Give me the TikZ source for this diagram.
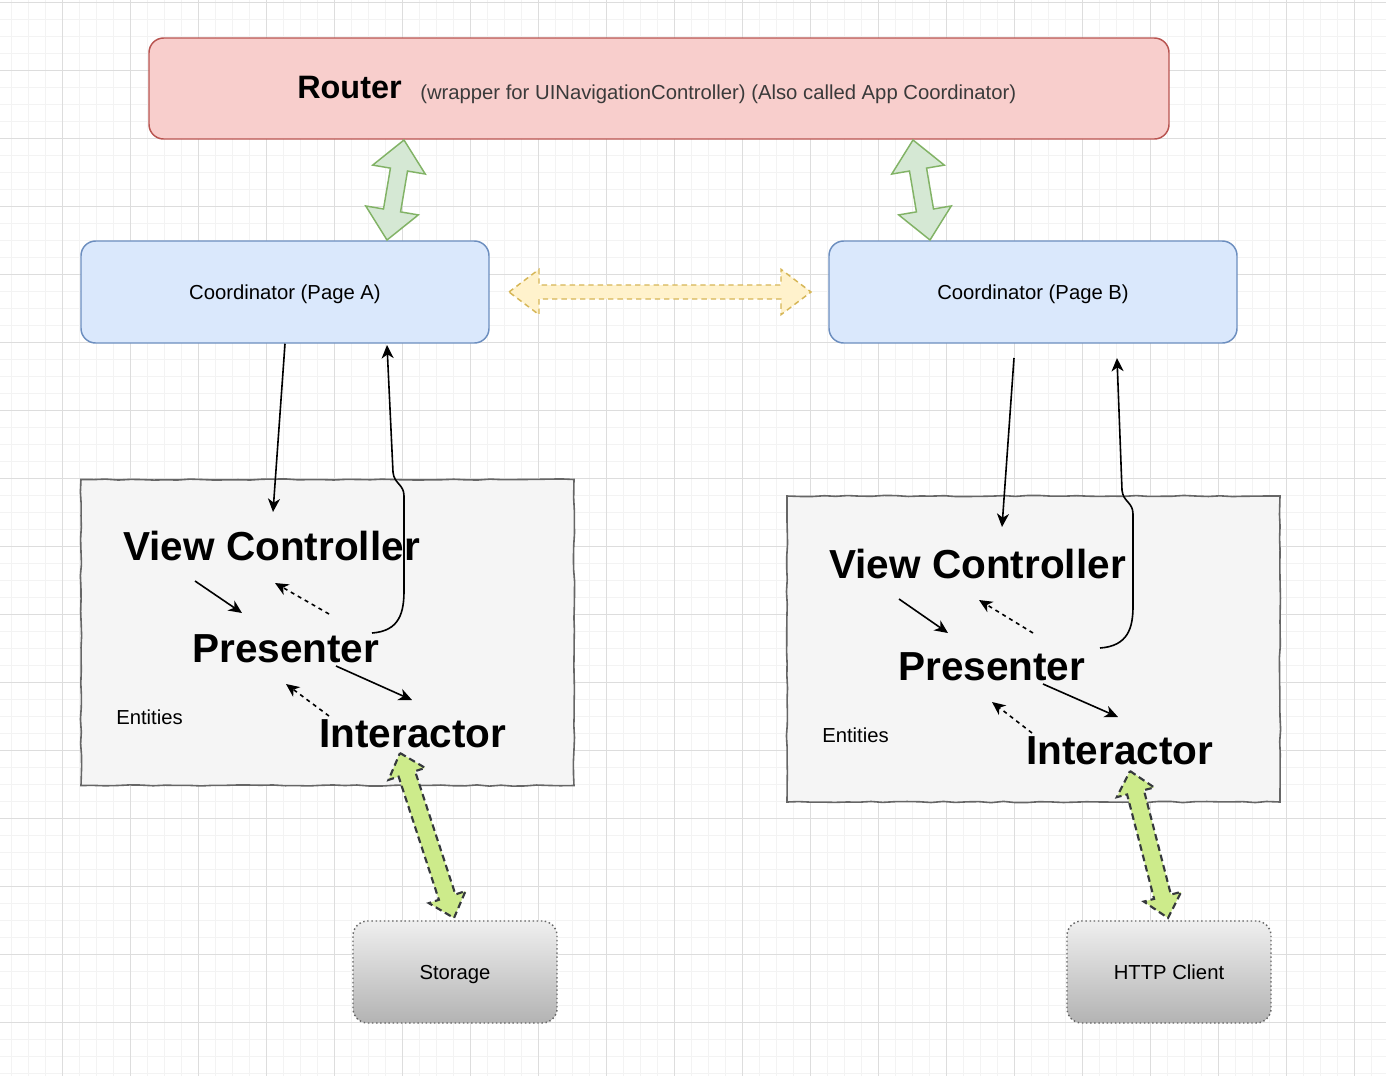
\documentclass[tikz,border=0pt]{standalone}
\usepackage{fontspec}
\setmainfont{Liberation Sans}
\usetikzlibrary{calc,arrows.meta,decorations.pathmorphing}
\definecolor{gridmin}{HTML}{F3F3F3}
\definecolor{gridmaj}{HTML}{DDDDDD}
\definecolor{rfill}{HTML}{F8CECC}
\definecolor{rdraw}{HTML}{B85450}
\definecolor{bfill}{HTML}{DAE8FC}
\definecolor{bdraw}{HTML}{6C8EBF}
\definecolor{gfill}{HTML}{D5E8D4}
\definecolor{gdraw}{HTML}{82B366}
\definecolor{yfill}{HTML}{FFF2CC}
\definecolor{ydraw}{HTML}{D6B656}
\definecolor{lfill}{HTML}{CDEB8B}
\definecolor{ldraw}{HTML}{36393D}
\definecolor{sfill}{HTML}{F5F5F5}
\definecolor{sdraw}{HTML}{666666}
\definecolor{wtext}{HTML}{3A3A3A}
\definecolor{exttop}{HTML}{EFEFEF}
\definecolor{extbot}{HTML}{B3B3B3}
% double block arrow: #1 prefix, #2 tip A, #3 tip B, #4 head length, #5 head half width, #6 shaft half width, #7 style
\newcommand\dblockarrow[7]{%
  \coordinate (#1h1) at ($(#2)!#4!(#3)$);
  \coordinate (#1h2) at ($(#3)!#4!(#2)$);
  \path[#7] (#2) -- ($(#1h1)!#5!90:(#3)$) -- ($(#1h1)!#6!90:(#3)$)
    -- ($(#1h2)!#6!-90:(#2)$) -- ($(#1h2)!#5!-90:(#2)$) -- (#3)
    -- ($(#1h2)!#5!90:(#2)$) -- ($(#1h2)!#6!90:(#2)$)
    -- ($(#1h1)!#6!-90:(#3)$) -- ($(#1h1)!#5!-90:(#3)$) -- cycle;}
\begin{document}
\begin{tikzpicture}[x=0.75pt,y=-0.75pt,
  routerbox/.style={draw=rdraw, fill=rfill, line width=1.1pt, rounded corners=11pt,
    minimum width=765pt, minimum height=75.75pt, inner sep=0pt},
  coordbox/.style={draw=bdraw, fill=bfill, line width=1.1pt, rounded corners=11pt,
    minimum width=306pt, minimum height=76.5pt, font=\fontsize{15.2}{18}\selectfont,
    text height=10.9pt, text depth=0pt},
  sketchbox/.style={draw=sdraw, fill=sfill, line width=1.2pt, decorate,
    decoration={random steps, segment length=9pt, amplitude=0.45pt},
    minimum width=369.75pt, minimum height=229.5pt, inner sep=0pt},
  extbox/.style={draw=sdraw, dotted, line width=1.1pt, top color=exttop, bottom color=extbot,
    rounded corners=11pt, minimum width=153pt, minimum height=76.5pt,
    font=\fontsize{15.2}{18}\selectfont, text height=10.9pt, text depth=0pt},
  big/.style={font=\fontsize{30.4}{36}\selectfont\bfseries, anchor=base west, inner sep=0pt},
  small/.style={font=\fontsize{15.2}{18}\selectfont, anchor=base west, inner sep=0pt},
  flow/.style={line width=1.2pt, -{Stealth[length=10pt,width=9pt,inset=3pt]}},
  ret/.style={flow, dash pattern=on 3pt off 3pt},
  greenarr/.style={fill=gfill, draw=gdraw, line width=1.1pt, line join=miter},
  yellowarr/.style={fill=yfill, draw=ydraw, line width=1.1pt, dash pattern=on 4pt off 3pt},
  limearr/.style={fill=lfill, draw=ldraw, line width=1.6pt, dash pattern=on 5pt off 3pt},
  gminor/.style={draw=gridmin, line width=0.75pt},
  gmajor/.style={draw=gridmaj, line width=0.75pt}]
\pgfmathsetseed{7}
\useasboundingbox (0,0) rectangle (1386,1076);
\fill[white] (0,0) rectangle (1386,1076);
% grid
\foreach \i in {0,...,81} {\draw[gminor] ({11+17*\i},0) -- ({11+17*\i},1076);}
\foreach \i in {0,...,63} {\draw[gminor] (0,{2+17*\i}) -- (1386,{2+17*\i});}
\foreach \i in {0,...,19} {\draw[gmajor] ({62+68*\i},0) -- ({62+68*\i},1076);}
\foreach \i in {0,...,15} {\draw[gmajor] (0,{2+68*\i}) -- (1386,{2+68*\i});}

% router
\node[routerbox] (router) at (659,88.5) {};
\node[font=\fontsize{24.3}{28}\selectfont\bfseries, anchor=base west, inner sep=0pt] (routert) at (297,98) {Router};
\node[small, text=wtext] (routerw) at (420,99) {(wrapper for UINavigationController) (Also called App Coordinator)};

% coordinators
\node[coordbox] (coA) at (285,292) {Coordinator (Page A)};
\node[coordbox] (coB) at (1033,292) {Coordinator (Page B)};

% sketch boxes
\node[sketchbox] (sbA) at (327.5,632.5) {};
\node[sketchbox] (sbB) at (1033.5,649) {};

% texts left
\node[big] (vcA) at (123,560) {View Controller};
\node[big] (prA) at (192,662) {Presenter};
\node[big] (itA) at (319,747) {Interactor};
\node[small] (enA) at (116,724) {Entities};
% texts right
\node[big] (vcB) at (829,578) {View Controller};
\node[big] (prB) at (898,680) {Presenter};
\node[big] (itB) at (1026,764) {Interactor};
\node[small] (enB) at (822,742) {Entities};

% external boxes
\node[extbox] (storage) at (455,972) {Storage};
\node[extbox] (http) at (1169,972) {HTTP Client};

% green router arrows
\coordinate (gA1) at (404,140);
\coordinate (gA2) at (387,240);
\coordinate (gB1) at (913,140);
\coordinate (gB2) at (930,240);
\dblockarrow{ga}{gA1}{gA2}{22.5pt}{20pt}{6.5pt}{greenarr}
\dblockarrow{gb}{gB1}{gB2}{22.5pt}{20pt}{6.5pt}{greenarr}

% yellow arrow between coordinators
\coordinate (yA) at (509,292);
\coordinate (yB) at (811,292);
\dblockarrow{ya}{yA}{yB}{22.5pt}{17pt}{5.25pt}{yellowarr}

% left flows
\coordinate (vcAin) at (273,512);
\coordinate (coAin) at (387,345);
\draw[flow] (coA.south) -- (vcAin);
\draw[flow] (372,633) .. controls (400,631) and (404,612) .. (404,590) -- (404,496)
  .. controls (404,484) and (394,484) .. (393,472) -- (coAin);
\coordinate (a1s) at (195,581); \coordinate (a1e) at (242,613);
\coordinate (a2s) at (329,614); \coordinate (a2e) at (275,583);
\coordinate (a3s) at (336,666); \coordinate (a3e) at (412,700);
\coordinate (a4s) at (329,716); \coordinate (a4e) at (286,684);
\draw[flow] (a1s) -- (a1e);
\draw[ret] (a2s) -- (a2e);
\draw[flow] (a3s) -- (a3e);
\draw[ret] (a4s) -- (a4e);

% right flows
\coordinate (coBout) at (1014,358);
\coordinate (vcBin) at (1002,527);
\coordinate (coBin) at (1117,358);
\draw[flow] (coBout) -- (vcBin);
\draw[flow] (1100,648) .. controls (1128,646) and (1133,628) .. (1133,606) -- (1133,514)
  .. controls (1133,502) and (1123,502) .. (1122,490) -- (coBin);
\coordinate (b1s) at (899,599); \coordinate (b1e) at (948,633);
\coordinate (b2s) at (1033,633); \coordinate (b2e) at (979,600);
\coordinate (b3s) at (1043,684); \coordinate (b3e) at (1118,717);
\coordinate (b4s) at (1032,733); \coordinate (b4e) at (992,702);
\draw[flow] (b1s) -- (b1e);
\draw[ret] (b2s) -- (b2e);
\draw[flow] (b3s) -- (b3e);
\draw[ret] (b4s) -- (b4e);

% lime arrows to storage / http
\coordinate (lA1) at (400,753);
\coordinate (lA2) at (454,918);
\coordinate (lB1) at (1130,771);
\coordinate (lB2) at (1168,918);
\dblockarrow{la}{lA1}{lA2}{16.5pt}{14.5pt}{6.5pt}{limearr}
\dblockarrow{lb}{lB1}{lB2}{16.5pt}{14.5pt}{6.5pt}{limearr}
\end{tikzpicture}
\end{document}
